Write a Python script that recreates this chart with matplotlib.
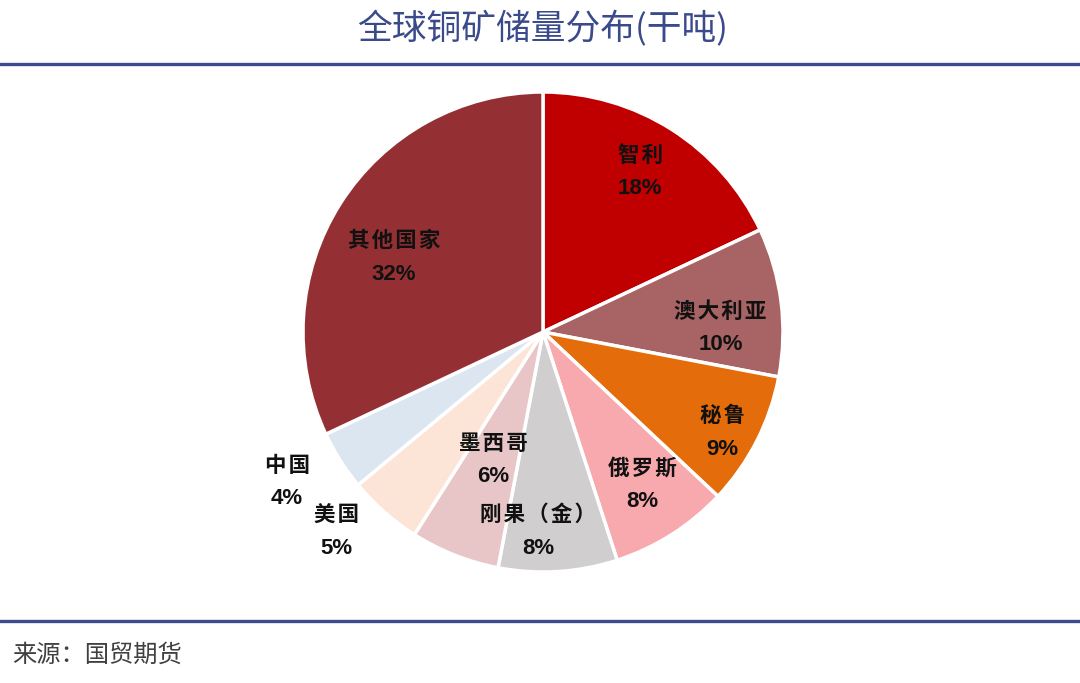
import matplotlib.pyplot as plt
import numpy as np
from matplotlib.lines import Line2D

plt.rcParams['font.family'] = ['Noto Sans CJK SC', 'DejaVu Sans']

# data, clockwise from 12 o'clock
countries = ['智利', '澳大利亚', '秘鲁', '俄罗斯', '刚果（金）', '墨西哥', '美国', '中国', '其他国家']
shares = [18, 10, 9, 8, 8, 6, 5, 4, 32]

colors = ['#C00000', '#A86464', '#E46C0A', '#F8A9AE', '#D0CECE',
          '#E8C6C8', '#FCE4D6', '#DCE6F1', '#943034']
# label distance from centre (fraction of radius) and angle nudge (deg)
label_dist = [0.79, 0.74, 0.85, 0.75, 0.82, 0.56, 1.19, 1.23, 0.70]
label_nudge = [1.5, -5, -1.5, 1, -5, 0, -5, -2.5, 5]

fig = plt.figure(figsize=(10.8, 6.83), dpi=100)

W, H = 1080, 683
cx, cy, r = 543, 332, 240
half = 1.3 * r
ax = fig.add_axes([(cx - half) / W, (H - cy - half) / H, 2 * half / W, 2 * half / H])

wedges, _ = ax.pie(shares, colors=colors, startangle=90, counterclock=False,
                   wedgeprops=dict(edgecolor='white', linewidth=2.5))
ax.set_xlim(-1.3, 1.3)
ax.set_ylim(-1.3, 1.3)
ax.set_aspect('equal')
ax.axis('off')

for w, name, val, d, nudge in zip(wedges, countries, shares, label_dist, label_nudge):
    ang = np.deg2rad((w.theta1 + w.theta2) / 2 + nudge)
    x, y = d * np.cos(ang), d * np.sin(ang) - 0.012
    spaced = '\u200a'.join(name)
    ax.text(x, y + 0.07, spaced, ha='center', va='center', fontsize=15.5,
            fontweight='bold', color='#111111',
            family=['Noto Sans CJK SC', 'DejaVu Sans'])
    ax.text(x, y - 0.07, f'{val}%', ha='center', va='center', fontsize=16,
            fontweight='bold', color='#111111', family=['Liberation Sans'])

fig.text(cx / W, 1 - 29 / H, '全球铜矿储量分布(干吨)', ha='center', va='center',
         fontsize=25, color='#3B4A8B')
for ypix in (64, 621):
    fig.add_artist(Line2D([0, 1], [1 - ypix / H] * 2, color='#3C4B8C', linewidth=2.4,
                          transform=fig.transFigure))
fig.text(12 / W, 1 - 655 / H, '来源：国贸期货', ha='left', va='center',
         fontsize=17.5, color='#404040')

fig.savefig('out.png', dpi=100)
